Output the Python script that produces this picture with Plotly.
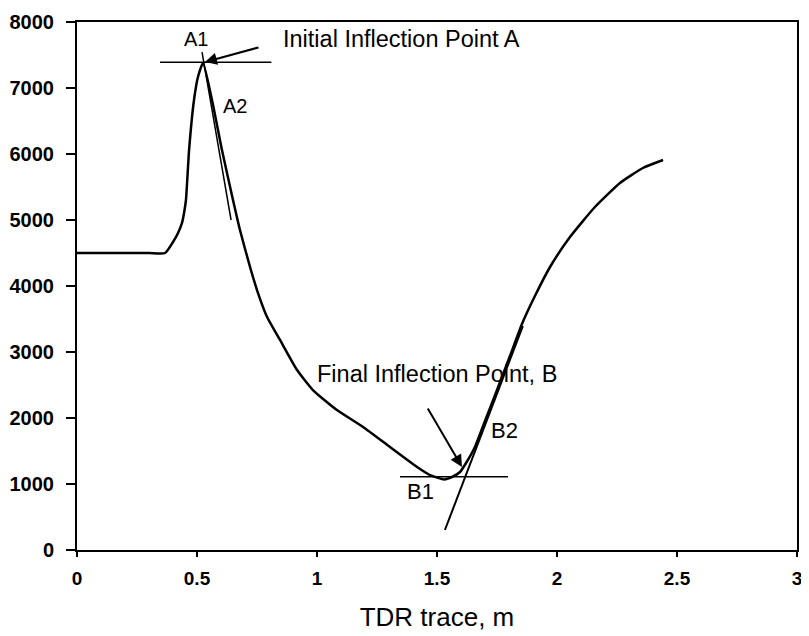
import plotly.graph_objects as go

# TDR trace (distance m, reading)
trace_x = [0.00, 0.15, 0.30, 0.367, 0.40, 0.421, 0.4375, 0.446, 0.454, 0.467, 0.4875, 0.504, 0.525,
           0.5625, 0.604, 0.65, 0.679, 0.721, 0.75, 0.792, 0.846, 0.917, 0.983,
           1.083, 1.192, 1.304, 1.417, 1.471, 1.53, 1.5625, 1.596, 1.621, 1.658, 1.70, 1.75,
           1.804, 1.854, 1.908, 1.971, 2.054, 2.158, 2.2625, 2.358, 2.442]
trace_y = [4500, 4500, 4500, 4500, 4667, 4803, 4955, 5106, 5303, 6060, 6818, 7167, 7379,
           6818, 6060, 5303, 4848, 4288, 3939, 3530, 3182, 2727, 2424,
           2121, 1864, 1561, 1258, 1136, 1070, 1106, 1182, 1318, 1561, 1955, 2424,
           2939, 3424, 3848, 4288, 4742, 5197, 5561, 5788, 5909]

# Construction lines
a1_x = [0.346, 0.81]
a1_y = [7390, 7390]
a2_x = [0.521, 0.642]
a2_y = [7545, 5000]
b1_x = [1.346, 1.796]
b1_y = [1110, 1110]
b2_x = [1.533, 1.858]
b2_y = [303, 3394]

x_ticks = [0, 0.5, 1, 1.5, 2, 2.5, 3]
x_tick_text = ["0", "0.5", "1", "1.5", "2", "2.5", "3"]
y_ticks = [0, 1000, 2000, 3000, 4000, 5000, 6000, 7000, 8000]

FONT = "Liberation Sans, Arial, sans-serif"

fig = go.Figure()
fig.add_trace(go.Scatter(x=trace_x, y=trace_y, mode="lines",
                         line=dict(color="black", width=2.5, shape="spline", smoothing=0.5),
                         showlegend=False, hoverinfo="skip"))
for xs, ys, w in [(a1_x, a1_y, 1.5), (a2_x, a2_y, 1.5), (b1_x, b1_y, 1.5), (b2_x, b2_y, 2)]:
    fig.add_trace(go.Scatter(x=xs, y=ys, mode="lines", line=dict(color="black", width=w),
                             showlegend=False, hoverinfo="skip"))

ann = []
# arrows
ann.append(dict(x=0.533, y=7394, ax=0.7625, ay=7621, xref="x", yref="y", axref="x", ayref="y",
                showarrow=True, arrowhead=2, arrowsize=1.2, arrowwidth=2, arrowcolor="black", text=""))
ann.append(dict(x=1.604, y=1258, ax=1.458, ay=2167, xref="x", yref="y", axref="x", ayref="y",
                showarrow=True, arrowhead=2, arrowsize=1.2, arrowwidth=2, arrowcolor="black", text=""))


def lab(text, x, y, size, xanchor="center"):
    return dict(text=text, x=x, y=y, xref="x", yref="y", showarrow=False, xanchor=xanchor,
                yanchor="middle", font=dict(family=FONT, size=size, color="black"))


ann.append(lab("Initial Inflection Point A", 0.85, 7745, 23.5, "left"))
ann.append(lab("Final Inflection Point, B", 0.99, 2667, 23.5, "left"))
ann.append(lab("A1", 0.496, 7742, 20))
ann.append(lab("A2", 0.658, 6727, 20))
ann.append(lab("B1", 1.433, 894, 22))
ann.append(lab("B2", 1.783, 1818, 22))

# the page body adds an 8px offset, so the figure is sized to fit inside the window
fig.update_layout(
    width=801, height=628,
    margin=dict(l=69, r=12, t=14, b=86),
    paper_bgcolor="white", plot_bgcolor="white",
    annotations=ann,
    font=dict(family=FONT, color="black"),
    xaxis=dict(range=[0, 3], tickvals=x_ticks, ticktext=x_tick_text, showgrid=False, zeroline=False,
               automargin=False,
               showline=True, linecolor="black", linewidth=2, mirror=True,
               ticks="outside", ticklen=5, tickwidth=1.5, tickcolor="black", ticklabelstandoff=5,
               tickfont=dict(family=FONT, size=19, color="black", weight="bold"),
               title=dict(text="TDR trace, m", font=dict(family=FONT, size=26, color="black"), standoff=20)),
    yaxis=dict(range=[0, 8000], tickvals=y_ticks, showgrid=False, zeroline=False,
               automargin=False,
               showline=True, linecolor="black", linewidth=2, mirror=True,
               ticks="outside", ticklen=9, tickwidth=1.5, tickcolor="black", ticklabelstandoff=8,
               tickfont=dict(family=FONT, size=20, color="black", weight="bold")),
)

fig.write_html("out.html")
